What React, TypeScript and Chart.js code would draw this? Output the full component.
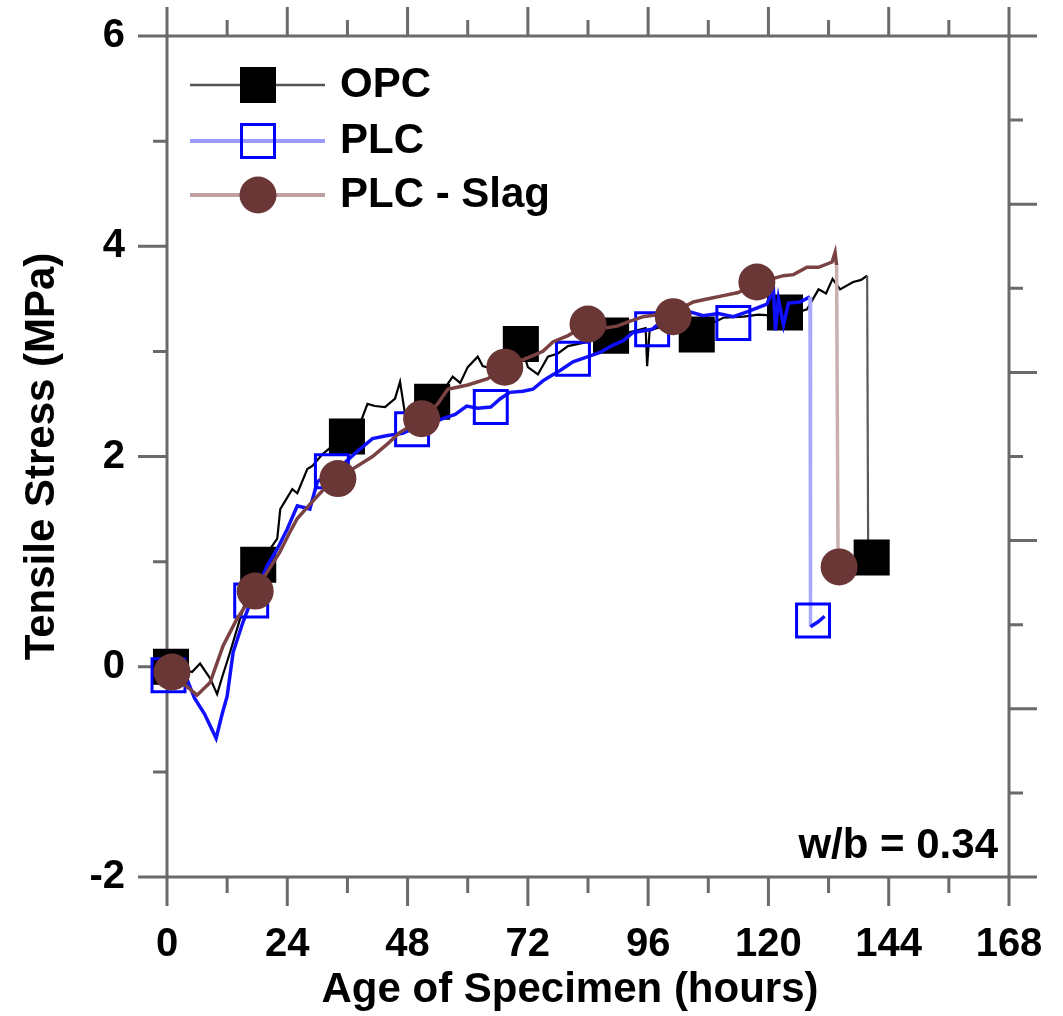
import React, { useEffect, useRef } from 'react';
import { Chart, registerables } from 'chart.js';

Chart.register(...registerables);

// ---------- data ----------
const opcHours = [0.8, 3, 5, 6.6, 8.6, 10, 11, 12.6, 14.6, 16.5, 18.2, 20, 22, 22.6, 25, 26, 28, 29, 31, 33, 35.9, 37, 38.5, 40, 41.5, 43.5, 45.5, 46.5, 47.5, 49, 51, 52.9, 55, 57, 58.5, 60, 62, 63, 64.5, 66, 68, 70.6, 72, 74, 76, 78, 80, 83, 86, 89, 92, 95.5, 95.8, 96.3, 99, 102, 105.7, 108, 111, 115, 118, 121, 123.3, 125, 127.7, 130, 131.5, 132.8, 134.3, 136.9, 138.5, 139.7, 139.9];
const opcStress = [0.0, -0.02, -0.05, 0.03, -0.11, -0.26, -0.1, 0.14, 0.46, 0.75, 0.97, 1.08, 1.22, 1.5, 1.69, 1.65, 1.88, 1.91, 2.02, 2.1, 2.19, 2.25, 2.31, 2.5, 2.48, 2.47, 2.55, 2.71, 2.4, 2.45, 2.5, 2.52, 2.62, 2.76, 2.7, 2.85, 2.95, 2.86, 2.84, 2.97, 2.95, 3.07, 2.85, 2.78, 2.95, 2.98, 3.05, 3.08, 3.12, 3.15, 3.18, 3.22, 2.86, 3.2, 3.24, 3.2, 3.16, 3.25, 3.32, 3.33, 3.35, 3.34, 3.37, 3.36, 3.4, 3.59, 3.55, 3.69, 3.59, 3.66, 3.68, 3.72, 1.05];

const plcHours = [0, 2, 4, 5.5, 7.5, 9.8, 11, 12, 13.2, 15.2, 16.8, 18.5, 20, 22, 24, 26, 28.5, 30, 32.9, 35, 38, 41, 44, 47, 48.9, 52, 55, 57.5, 59.8, 62, 64.6, 66.5, 68.4, 71, 73, 75, 76.4, 78.5, 81, 84, 86.4, 89, 91, 93, 96.8, 99, 101, 104, 107, 110, 113, 116, 119.7, 121, 121.4, 122, 123, 124, 126.3, 128.3, 128.4, 130, 131.2];
const plcStress = [-0.08, -0.1, -0.12, -0.3, -0.45, -0.68, -0.45, -0.28, 0.14, 0.43, 0.63, 0.8, 0.96, 1.12, 1.31, 1.53, 1.5, 1.76, 1.86, 1.92, 2.05, 2.17, 2.2, 2.22, 2.26, 2.3, 2.36, 2.4, 2.48, 2.46, 2.47, 2.55, 2.61, 2.62, 2.64, 2.72, 2.76, 2.82, 2.9, 2.95, 2.99, 3.06, 3.1, 3.18, 3.21, 3.3, 3.28, 3.38, 3.34, 3.36, 3.33, 3.38, 3.45, 3.59, 3.2, 3.5, 3.25, 3.46, 3.47, 3.52, 0.38, 0.43, 0.48];

const slagHours = [1, 3, 6, 8.6, 11.2, 13.9, 17.6, 20, 22.5, 24.5, 26, 29, 31.5, 34.1, 37, 41, 44, 46.5, 51, 54, 56, 60, 64, 67.4, 70, 73, 75, 77, 80, 84, 87, 89.8, 92, 95, 98, 101, 103, 105, 108, 111, 114, 117.7, 120, 123, 125, 127.7, 130, 132.7, 133.3, 133.6, 133.9];
const slagStress = [-0.05, -0.15, -0.27, -0.15, 0.2, 0.45, 0.72, 0.9, 1.09, 1.28, 1.41, 1.57, 1.7, 1.79, 1.88, 2.0, 2.12, 2.23, 2.36, 2.5, 2.64, 2.68, 2.74, 2.85, 2.9, 2.96, 3.0, 3.09, 3.15, 3.26, 3.22, 3.24, 3.28, 3.33, 3.35, 3.33, 3.42, 3.47, 3.5, 3.53, 3.56, 3.66, 3.68, 3.72, 3.73, 3.8, 3.8, 3.85, 3.94, 3.82, 0.95];

const opcMarkerHours = [0.8, 18.2, 35.9, 52.9, 70.6, 88.6, 105.7, 123.3, 140.6];
const opcMarkerStress = [0.0, 0.97, 2.19, 2.52, 3.07, 3.15, 3.16, 3.37, 1.04];
const plcMarkerHours = [0.3, 16.8, 32.9, 48.9, 64.6, 81, 96.8, 113, 128.9];
const plcMarkerStress = [-0.08, 0.63, 1.86, 2.26, 2.47, 2.93, 3.21, 3.27, 0.44];
const slagMarkerHours = [1, 17.6, 34.1, 50.8, 67.4, 84, 101, 117.7, 134.1];
const slagMarkerStress = [-0.05, 0.72, 1.79, 2.36, 2.85, 3.26, 3.33, 3.66, 0.95];

const seriesNames = ['OPC', 'PLC', 'PLC - Slag'];
const xTickValues = [0, 12, 24, 36, 48, 60, 72, 84, 96, 108, 120, 132, 144, 156, 168];
const yTickValues = [-2, -1, 0, 1, 2, 3, 4, 5, 6];
const rightTickValues = [6, 5.2, 4.4, 3.6, 2.8, 2, 1.2, 0.4, -0.4, -1.2, -2];
const xTitle = 'Age of Specimen (hours)';
const yTitle = 'Tensile Stress (MPa)';
const noteText = 'w/b = 0.34';

// ---------- styles ----------
const FONT = '"Liberation Sans", Arial, Helvetica, sans-serif';
const AXIS = '#6a6a6a';
const OPC_LINE = '#000000';
const OPC_DROP = '#5a5a5a';
const PLC_LINE = '#1010ff';
const PLC_DROP = '#a8a8ff';
const SLAG_LINE = '#7a4242';
const SLAG_DROP = '#c8b0b0';
const SLAG_FILL = '#6b3636';

const pts = (xs: number[], ys: number[]) => xs.map((x, i) => ({ x, y: ys[i] }));

function drawMarker(ctx: CanvasRenderingContext2D, kind: number, cx: number, cy: number) {
  ctx.save();
  if (kind === 0) {
    ctx.fillStyle = '#000';
    ctx.fillRect(cx - 18, cy - 18, 36, 36);
  } else if (kind === 1) {
    ctx.strokeStyle = '#0000ff';
    ctx.lineWidth = 3;
    ctx.strokeRect(cx - 16.5, cy - 16.5, 33, 33);
  } else {
    ctx.fillStyle = SLAG_FILL;
    ctx.beginPath();
    ctx.arc(cx, cy, 18.5, 0, Math.PI * 2);
    ctx.fill();
  }
  ctx.restore();
}

const framePlugin = {
  id: 'framePlugin',
  beforeDatasetsDraw(chart: any) {
    const { ctx, chartArea } = chart;
    const { left, right, top, bottom } = chartArea;
    const x = chart.scales.x;
    const y = chart.scales.y;
    ctx.save();
    ctx.strokeStyle = AXIS;
    ctx.lineWidth = 3;
    ctx.beginPath();
    ctx.rect(left, top, right - left, bottom - top);
    ctx.stroke();
    ctx.beginPath();
    yTickValues.forEach((v) => {
      const py = y.getPixelForValue(v);
      const len = v % 2 === 0 ? 29 : 14;
      ctx.moveTo(left, py);
      ctx.lineTo(left - len, py);
    });
    xTickValues.forEach((v) => {
      const px = x.getPixelForValue(v);
      const len = v % 24 === 0 ? 29 : 16;
      ctx.moveTo(px, bottom);
      ctx.lineTo(px, bottom + len);
      ctx.moveTo(px, top);
      ctx.lineTo(px, top - len);
    });
    rightTickValues.forEach((v, i) => {
      const py = y.getPixelForValue(v);
      const len = i % 2 === 0 ? 28 : 14;
      ctx.moveTo(right, py);
      ctx.lineTo(right + len, py);
    });
    ctx.stroke();
    ctx.restore();
  },
  afterDraw(chart: any) {
    const { ctx } = chart;
    ctx.save();
    ctx.fillStyle = '#000';
    ctx.font = `bold 42px ${FONT}`;
    ctx.textAlign = 'center';
    ctx.textBaseline = 'middle';
    ctx.fillText(xTitle, 570, 990);
    ctx.textAlign = 'right';
    ctx.fillText(noteText, 998, 846);
    const rows = [85, 141, 195];
    const lineCols = ['#555555', '#9a9aff', '#bfa0a0'];
    const lineWs = [2.5, 4, 4];
    rows.forEach((ry, i) => {
      ctx.strokeStyle = lineCols[i];
      ctx.lineWidth = lineWs[i];
      ctx.beginPath();
      ctx.moveTo(190, ry);
      ctx.lineTo(325, ry);
      ctx.stroke();
      drawMarker(ctx, i, 258, ry);
      ctx.fillStyle = '#000';
      ctx.textAlign = 'left';
      ctx.textBaseline = 'middle';
      ctx.font = `bold 42px ${FONT}`;
      ctx.fillText(seriesNames[i], 340, ry);
    });
    ctx.restore();
  },
};

const dropSeg = (main: string, drop: string) => ({
  borderColor: (c: any) => (c.p0.parsed.y - c.p1.parsed.y > 2 ? drop : main),
});

const zeroPad = (s: any) => {
  s.paddingLeft = 0;
  s.paddingRight = 0;
  s.paddingTop = 0;
  s.paddingBottom = 0;
};

export default function App() {
  const ref = useRef<HTMLCanvasElement | null>(null);
  useEffect(() => {
    document.body.style.margin = '0';
    const canvas = ref.current;
    if (!canvas) return;
    const chart = new Chart(canvas, {
      type: 'line',
      data: {
        datasets: [
          {
            label: 'PLC - Slag markers',
            data: pts(slagMarkerHours, slagMarkerStress),
            showLine: false,
            pointStyle: 'circle',
            pointRadius: 18.5,
            pointBackgroundColor: SLAG_FILL,
            pointBorderColor: SLAG_FILL,
            pointBorderWidth: 0,
            clip: false,
            order: 0,
          },
          {
            label: 'PLC - Slag',
            data: pts(slagHours, slagStress),
            borderColor: SLAG_LINE,
            borderWidth: 3.5,
            pointRadius: 0,
            segment: dropSeg(SLAG_LINE, SLAG_DROP),
            clip: false,
            order: 1,
          },
          {
            label: 'PLC markers',
            data: pts(plcMarkerHours, plcMarkerStress),
            showLine: false,
            pointStyle: 'rect',
            pointRadius: 23.3,
            pointBackgroundColor: 'rgba(0,0,0,0)',
            pointBorderColor: '#0000ff',
            pointBorderWidth: 3,
            clip: false,
            order: 2,
          },
          {
            label: 'PLC',
            data: pts(plcHours, plcStress),
            borderColor: PLC_LINE,
            borderWidth: 3.5,
            pointRadius: 0,
            segment: dropSeg(PLC_LINE, PLC_DROP),
            clip: false,
            order: 3,
          },
          {
            label: 'OPC markers',
            data: pts(opcMarkerHours, opcMarkerStress),
            showLine: false,
            pointStyle: 'rect',
            pointRadius: 25.5,
            pointBackgroundColor: '#000',
            pointBorderColor: '#000',
            pointBorderWidth: 0,
            clip: false,
            order: 4,
          },
          {
            label: 'OPC',
            data: pts(opcHours, opcStress),
            borderColor: OPC_LINE,
            borderWidth: 2.2,
            pointRadius: 0,
            segment: dropSeg(OPC_LINE, OPC_DROP),
            clip: false,
            order: 5,
          },
        ],
      },
      options: {
        animation: false,
        responsive: false,
        layout: { padding: { left: 0, top: 36, right: 54, bottom: 0 } },
        plugins: { legend: { display: false }, tooltip: { enabled: false } },
        scales: {
          x: {
            type: 'linear',
            min: 0,
            max: 168,
            grid: { display: false, drawTicks: false },
            border: { display: false },
            ticks: {
              stepSize: 24,
              padding: 44,
              color: '#000',
              font: { family: FONT, size: 40, weight: 'bold' },
              maxRotation: 0,
              autoSkip: false,
            },
            afterFit: (s: any) => {
              s.height = 139;
              zeroPad(s);
            },
          },
          y: {
            type: 'linear',
            min: -2,
            max: 6,
            grid: { display: false, drawTicks: false },
            border: { display: false },
            ticks: {
              stepSize: 2,
              padding: 42,
              color: '#000',
              font: { family: FONT, size: 40, weight: 'bold' },
            },
            title: {
              display: true,
              text: yTitle,
              color: '#000',
              font: { family: FONT, size: 42, weight: 'bold' },
              padding: { top: 17, bottom: 0 },
            },
            afterFit: (s: any) => {
              s.width = 167;
              zeroPad(s);
            },
          },
        },
      },
      plugins: [framePlugin],
    } as any);
    return () => chart.destroy();
  }, []);
  return <canvas ref={ref} width={1063} height={1016} style={{ display: 'block' }} />;
}
